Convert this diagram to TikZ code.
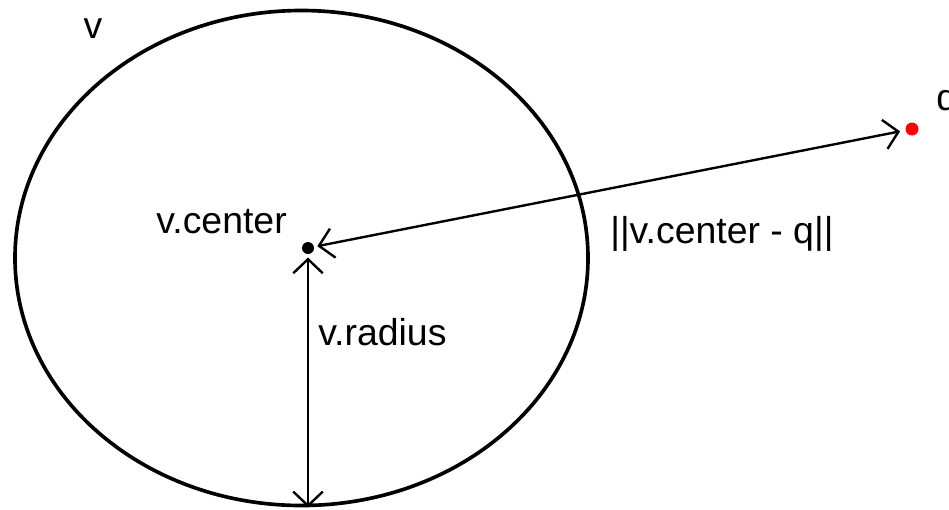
\documentclass[tikz,border=0pt]{standalone}
\usepackage{fontspec}
\setmainfont{Liberation Sans}
\usepackage{tikz}
\usetikzlibrary{shapes.geometric, arrows.meta, positioning, calc}
\tikzstyle{ball} = [ellipse, draw=black, line width=2.6pt, minimum width=573*0.025cm, minimum height=495*0.025cm, inner sep=0pt]
\tikzstyle{dot} = [circle, inner sep=0pt, minimum size=12*0.025cm]
\tikzstyle{label} = [inner sep=0pt, font=\fontsize{26.6}{30}\selectfont]
\tikzstyle{arrow} = [line width=1.7pt, {Straight Barb[length=10pt,width=21pt]}-{Straight Barb[length=10pt,width=21pt]}]

\begin{document}
\begin{tikzpicture}[x=0.025cm, y=-0.025cm]
  \clip (0,0) rectangle (949,509);
  \node[ball] (v) at (301.5,258) {};
  \node[label, anchor=base] (vname) at (93,38) {v};
  \node[dot, fill=black, outer sep=2.5pt] (c) at (308,248) {};
  \node[dot, fill=red, minimum size=13*0.025cm, outer sep=4pt] (q) at (912,129) {};
  \node[label, anchor=base west] (qname) at (936,110) {q};
  \node[label, anchor=base east] (clabel) at (287,233) {v.center};
  \node[label, anchor=base west] (rlabel) at (318,345) {v.radius};
  \node[label, anchor=base west] (dlabel) at (610,243) {||v.center - q||};

  \draw[arrow] (c) -- (q);
  \draw[arrow] (c) -- (c |- v.south);
\end{tikzpicture}
\end{document}
